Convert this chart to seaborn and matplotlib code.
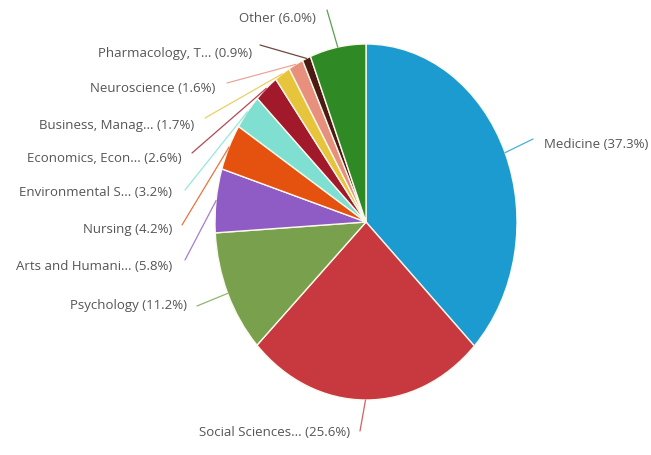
import matplotlib
matplotlib.use("Agg")
import matplotlib.pyplot as plt
import numpy as np
import seaborn as sns

# Subject areas and their share of documents (%)
subjects = [
    "Medicine", "Social Sciences...", "Psychology", "Arts and Humani...",
    "Nursing", "Environmental S...", "Economics, Econ...", "Business, Manag...",
    "Neuroscience", "Pharmacology, T...", "Other",
]
shares = [37.3, 25.6, 11.2, 5.8, 4.2, 3.2, 2.6, 1.7, 1.6, 0.9, 6.0]
colors = [
    "#1c9bd1", "#c7383f", "#79a14d", "#8f5cc5", "#e5510f", "#7fe0d2",
    "#a3192c", "#e6c43c", "#e8907e", "#4b1a12", "#2f8a26",
]

# Label layout in figure pixels: (text x, text y, align, connector end x, connector end y)
label_layout = [
    (544, 144, "left", 533, 139),
    (350, 432, "right", 360, 431),
    (187, 306, "right", 197, 306),
    (172, 267, "right", 185, 260),
    (172, 229, "right", 182, 225),
    (172, 192, "right", 185, 190),
    (182, 159, "right", 192, 153),
    (194, 126, "right", 205, 118),
    (215, 89, "right", 227, 83),
    (252, 53, "right", 260, 45),
    (316, 18, "right", 327, 10),
]

W, H = 651, 455
CX, CY = 366, 222      # pie centre (pixels, from top-left)
RX, RY = 151, 178      # horizontal / vertical radius in pixels

sns.set_theme(style="white")
plt.rcParams["font.family"] = ["Open Sans", "DejaVu Sans"]

fig = plt.figure(figsize=(W / 100, H / 100), dpi=100)
ax = fig.add_axes([0, 0, 1, 1])

palette = sns.color_palette(colors)
wedges, _ = ax.pie(
    shares,
    colors=palette,
    startangle=90,
    counterclock=False,
    wedgeprops=dict(edgecolor="#fbf8ec", linewidth=1.0),
)

# stretch the unit circle into the ellipse seen on the page
ax.set_aspect("auto")
ax.set_xlim(-CX / RX, (W - CX) / RX)
ax.set_ylim(-(H - CY) / RY, CY / RY)
ax.axis("off")

total = sum(shares)
cum = 0.0
for name, val, col, (tx, ty, ha, ex, ey) in zip(subjects, shares, colors, label_layout):
    mid = np.deg2rad(90 - (cum + val / 2) / total * 360)
    cum += val
    edge = (np.cos(mid), np.sin(mid))
    ax.annotate(
        "", xy=edge, xycoords="data",
        xytext=(ex / W, 1 - ey / H), textcoords="figure fraction",
        arrowprops=dict(arrowstyle="-", color=col, lw=0.9,
                        shrinkA=0, shrinkB=0, alpha=0.8),
    )
    fig.text(tx / W, 1 - ty / H, f"{name} ({val:.1f}%)",
             ha=ha, va="center", fontsize=9.5, color="#555555")

fig.savefig("out.png", dpi=100, facecolor="white")
